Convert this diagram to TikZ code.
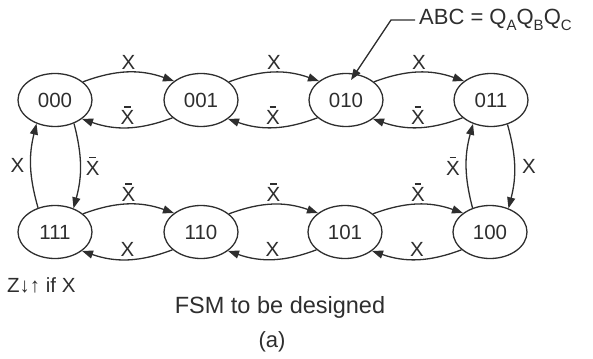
\documentclass[tikz,border=0pt]{standalone}
\usepackage{fontspec}
\setmainfont{Liberation Sans}
\usetikzlibrary{arrows.meta,shapes.geometric}
\definecolor{ink}{HTML}{2E2E2E}
\newcommand\Xbar{\hbox{X\llap{\makebox[0.667em][c]{\raisebox{0.83em}{\rule{0.32em}{0.07em}}}}}}
\begin{document}
\begin{tikzpicture}[x=1pt,y=-1pt,
  state/.style={draw=ink,line width=1.3pt,ellipse,minimum width=74pt,minimum height=53pt,inner sep=0pt,font=\fontsize{20.5}{24}\selectfont,text=ink},
  tr/.style={draw=ink,line width=1.3pt,-{Triangle[length=11pt,width=8pt]}},
  lbl/.style={font=\fontsize{20.5}{24}\selectfont,text=ink,inner sep=2pt}]
\useasboundingbox (0,0) rectangle (593,358);
\node[state] (s000) at (55,100) {000};
\node[state] (s001) at (201,100) {001};
\node[state] (s010) at (346,100) {010};
\node[state] (s011) at (491,100) {011};
\node[state] (s111) at (55,232) {111};
\node[state] (s110) at (201,232) {110};
\node[state] (s101) at (345,232) {101};
\node[state] (s100) at (490,232) {100};
% top row
\draw[tr] (s000.33) to[bend left=20] node[lbl,above] {X} (s001.145);
\draw[tr] (s001.212) to[bend left=20] node[lbl,above] {\Xbar} (s000.325);
\draw[tr] (s001.33) to[bend left=20] node[lbl,above] {X} (s010.145);
\draw[tr] (s010.212) to[bend left=20] node[lbl,above] {\Xbar} (s001.325);
\draw[tr] (s010.33) to[bend left=20] node[lbl,above] {X} (s011.145);
\draw[tr] (s011.212) to[bend left=20] node[lbl,above] {\Xbar} (s010.325);
% bottom row
\draw[tr] (s111.33) to[bend left=20] node[lbl,above] {\Xbar} (s110.145);
\draw[tr] (s110.212) to[bend left=20] node[lbl,above] {X} (s111.325);
\draw[tr] (s110.33) to[bend left=20] node[lbl,above] {\Xbar} (s101.145);
\draw[tr] (s101.212) to[bend left=20] node[lbl,above] {X} (s110.325);
\draw[tr] (s101.33) to[bend left=20] node[lbl,above] {\Xbar} (s100.145);
\draw[tr] (s100.212) to[bend left=20] node[lbl,above] {X} (s101.325);
% verticals
\draw[tr] (s111.125) to[bend left=15] node[lbl,left=4pt] {X} (s000.232);
\draw[tr] (s000.309) to[bend left=15] node[lbl,right=3pt] {\Xbar} (s111.52);
\draw[tr] (s100.126) to[bend left=15] node[lbl,left=4pt] {\Xbar} (s011.233);
\draw[tr] (s011.304) to[bend left=15] node[lbl,right=5pt] {X} (s100.52);
% annotation
\node[anchor=west,inner sep=0pt,text=ink,font=\fontsize{22}{25}\selectfont] (abc) at (419,20)
  {ABC = Q\raisebox{-0.3em}{\fontsize{15}{15}\selectfont A}Q\raisebox{-0.3em}{\fontsize{15}{15}\selectfont B}Q\raisebox{-0.3em}{\fontsize{15}{15}\selectfont C}};
\coordinate (tip) at (351,80);
\draw[tr] ([xshift=-4pt]abc.west) -- ++(-24,0) -- (tip);
% texts
\node[anchor=west,inner sep=0pt,text=ink,font=\fontsize{20.5}{24}\selectfont] (zlab) at (7,285) {Z↓↑ if X};
\node[inner sep=0pt,text=ink,font=\fontsize{23.5}{27}\selectfont] (cap) at (280,307) {FSM to be designed};
\node[inner sep=0pt,text=ink,font=\fontsize{22}{25}\selectfont] (sub) at (272,342) {(a)};
\end{tikzpicture}
\end{document}
